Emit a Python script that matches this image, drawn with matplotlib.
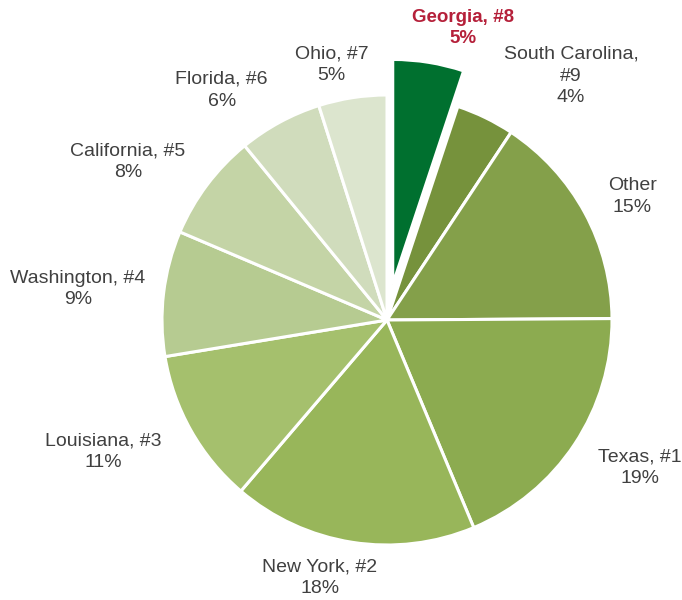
import numpy as np
import matplotlib
matplotlib.use("Agg")
import matplotlib.pyplot as plt

# ---- data ----
states = ["Georgia, #8", "South Carolina,\n#9", "Other", "Texas, #1", "New York, #2",
          "Louisiana, #3", "Washington, #4", "California, #5", "Florida, #6", "Ohio, #7"]
sizes = [5.1, 4.2, 15.6, 18.8, 17.55, 11.15, 9.0, 7.7, 6.0, 4.9]   # slice sizes
pct_labels = [5, 4, 15, 19, 18, 11, 9, 8, 6, 5]                    # percentages as printed
colors = ["#00702F", "#76923C", "#84A04A", "#8CAB50", "#98B65A",
          "#A5C06D", "#B6CB91", "#C4D4A6", "#D0DCBC", "#DCE5CE"]
explode = [0.16, 0, 0, 0, 0, 0, 0, 0, 0, 0]

# ---- label layout (radius factor, angle offset from wedge middle in degrees) ----
label_r = [1.34, 1.358, 1.22, 1.30, 1.185, 1.39, 1.38, 1.348, 1.258, 1.16]
label_da = [-5.4, -11.1, -1.7, 3.2, -5.7, -4.6, 1.1, 5.5, 7.3, 3.4]

plt.rcParams['font.family'] = ['Liberation Sans', 'DejaVu Sans']

W, H = 682, 600
cx, cy, R = 387, 320, 225
fig = plt.figure(figsize=(W / 100, H / 100), dpi=100)
ax = fig.add_axes([0, 0, 1, 1])

wedges, _ = ax.pie(sizes, colors=colors, explode=explode, startangle=90,
                   counterclock=False, radius=1.0,
                   wedgeprops=dict(edgecolor='white', linewidth=2.2))

ax.set_aspect('auto')
ax.set_xlim(-cx / R, (W - cx) / R)
ax.set_ylim(-(H - cy) / R, cy / R)
ax.axis('off')

for i, w in enumerate(wedges):
    mid = np.deg2rad((w.theta1 + w.theta2) / 2 + label_da[i])
    x = label_r[i] * np.cos(mid)
    y = label_r[i] * np.sin(mid)
    txt = f"{states[i]}\n{pct_labels[i]}%"
    if i == 0:
        ax.text(x, y, txt, ha='center', va='center', fontsize=13.5,
                fontweight='bold', color='#B5203A', linespacing=1.35)
    else:
        ax.text(x, y, txt, ha='center', va='center', fontsize=14,
                color='#404040', linespacing=1.35)

fig.savefig("out.png", dpi=100, facecolor='white')
